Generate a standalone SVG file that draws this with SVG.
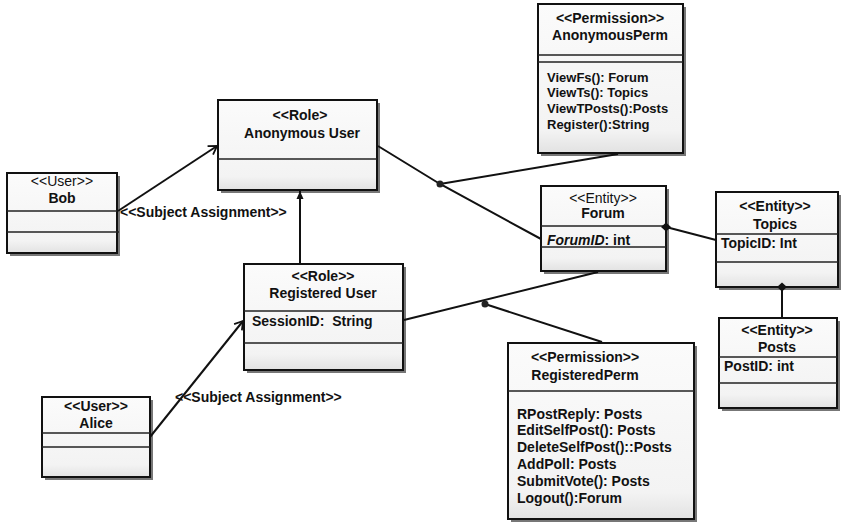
<svg xmlns="http://www.w3.org/2000/svg" width="842" height="529" viewBox="0 0 842 529">
<style>
text{font-family:"Liberation Sans",Arial,sans-serif;font-size:14px;font-weight:bold;fill:#111}
.n{font-weight:normal}
.c{text-anchor:middle}
.s{font-size:13px}
.box{fill:url(#g);stroke:#111;stroke-width:2}
.sh{fill:#777}
.div{stroke:#222;stroke-width:1.3}
.ln{stroke:#111;stroke-width:2;fill:none}
</style>
<defs>
<linearGradient id="g" x1="0" y1="0" x2="0" y2="1">
<stop offset="0" stop-color="#fbfbfb"/>
<stop offset="0.85" stop-color="#f3f3f3"/>
<stop offset="1" stop-color="#e2e2e2"/>
</linearGradient>
<marker id="open" markerWidth="12" markerHeight="12" refX="10" refY="6" orient="auto" markerUnits="userSpaceOnUse">
<path d="M2,1 L10,6 L2,11" fill="none" stroke="#111" stroke-width="1.8"/>
</marker>
<marker id="fill" markerWidth="10" markerHeight="10" refX="9" refY="5" orient="auto" markerUnits="userSpaceOnUse">
<path d="M1,1.5 L9,5 L1,8.5 Z" fill="#111"/>
</marker>
</defs>

<g id="bob">
<rect class="sh" x="10" y="176" width="110" height="80"/>
<rect class="box" x="7" y="173" width="110" height="80"/>
<line class="div" x1="7" y1="211" x2="117" y2="211"/>
<line class="div" x1="7" y1="232" x2="119" y2="232"/>
<text class="c n" x="62" y="186">&lt;&lt;User&gt;&gt;</text>
<text class="c" x="62" y="203">Bob</text>
</g>

<g id="anonymous-user">
<rect class="sh" x="221" y="103" width="159" height="90"/>
<rect class="box" x="218" y="100" width="159" height="90"/>
<line class="div" x1="218" y1="159" x2="377" y2="159"/>
<text class="c" x="300" y="120">&lt;&lt;Role&gt;</text>
<text class="c" x="302" y="138">Anonymous User</text>
</g>

<g id="registered-user">
<rect class="sh" x="247" y="267" width="159" height="106"/>
<rect class="box" x="244" y="264" width="159" height="106"/>
<line class="div" x1="244" y1="311" x2="403" y2="311"/>
<line class="div" x1="244" y1="343" x2="403" y2="343"/>
<text class="c" x="323" y="281">&lt;&lt;Role&gt;&gt;</text>
<text class="c" x="323" y="298">Registered User</text>
<text x="252" y="326">SessionID:&#160; String</text>
</g>

<g id="alice">
<rect class="sh" x="45" y="400" width="108" height="80"/>
<rect class="box" x="42" y="397" width="108" height="80"/>
<line class="div" x1="42" y1="433" x2="150" y2="433"/>
<line class="div" x1="42" y1="447" x2="150" y2="447"/>
<text class="c" x="96" y="411">&lt;&lt;User&gt;&gt;</text>
<text class="c" x="96" y="428">Alice</text>
</g>

<g id="anonymous-perm">
<rect class="sh" x="541" y="7" width="145" height="149"/>
<rect class="box" x="538" y="4" width="145" height="149"/>
<line class="div" x1="538" y1="55" x2="683" y2="55"/>
<line class="div" x1="538" y1="62" x2="683" y2="62"/>
<text class="c" x="610" y="23">&lt;&lt;Permission&gt;&gt;</text>
<text class="c" x="610" y="40">AnonymousPerm</text>
<text class="s" x="547" y="82">ViewFs(): Forum</text>
<text class="s" x="547" y="97">ViewTs(): Topics</text>
<text class="s" x="547" y="113">ViewTPosts():Posts</text>
<text class="s" x="547" y="129">Register():String</text>
</g>

<g id="forum">
<rect class="sh" x="544" y="189" width="125" height="85"/>
<rect class="box" x="541" y="186" width="125" height="85"/>
<line class="div" x1="541" y1="226" x2="666" y2="226"/>
<line class="div" x1="541" y1="247" x2="666" y2="247"/>
<text class="c n" x="603" y="203">&lt;&lt;Entity&gt;&gt;</text>
<text class="c" x="603" y="218">Forum</text>
<text x="547" y="245"><tspan font-style="italic">ForumID</tspan>: int</text>
</g>

<g id="topics">
<rect class="sh" x="719" y="195" width="122" height="95"/>
<rect class="box" x="716" y="192" width="122" height="95"/>
<line class="div" x1="716" y1="234" x2="838" y2="234"/>
<line class="div" x1="716" y1="262" x2="838" y2="262"/>
<text class="c" x="775" y="211">&lt;&lt;Entity&gt;&gt;</text>
<text class="c" x="775" y="229">Topics</text>
<text x="721" y="248">TopicID: Int</text>
</g>

<g id="posts">
<rect class="sh" x="722" y="321" width="118" height="90"/>
<rect class="box" x="719" y="318" width="118" height="90"/>
<line class="div" x1="719" y1="357" x2="837" y2="357"/>
<line class="div" x1="719" y1="383" x2="837" y2="383"/>
<text class="c" x="777" y="335">&lt;&lt;Entity&gt;&gt;</text>
<text class="c" x="777" y="352">Posts</text>
<text x="724" y="371">PostID: int</text>
</g>

<g id="registered-perm">
<rect class="sh" x="511" y="346" width="186" height="176"/>
<rect class="box" x="508" y="343" width="186" height="176"/>
<line class="div" x1="508" y1="391" x2="694" y2="391"/>
<text class="c" x="585" y="362">&lt;&lt;Permission&gt;&gt;</text>
<text class="c" x="585" y="380">RegisteredPerm</text>
<text x="517" y="419">RPostReply: Posts</text>
<text x="517" y="435">EditSelfPost(): Posts</text>
<text x="517" y="452">DeleteSelfPost()::Posts</text>
<text x="517" y="469">AddPoll: Posts</text>
<text x="517" y="486">SubmitVote(): Posts</text>
<text x="517" y="503">Logout():Forum</text>
</g>

<g id="connectors">
<line class="ln" x1="118" y1="211" x2="217" y2="146" marker-end="url(#open)"/>
<line class="ln" x1="150" y1="437" x2="243" y2="321" marker-end="url(#open)"/>
<line class="ln" x1="300" y1="263" x2="300" y2="191" marker-end="url(#fill)"/>
<polyline class="ln" points="378,146 440,184 541,239"/>
<line class="ln" x1="440" y1="184" x2="618" y2="154"/>
<line class="ln" x1="404" y1="320" x2="598" y2="272"/>
<line class="ln" x1="485" y1="304" x2="602" y2="342"/>
<circle cx="440" cy="184" r="3.5" fill="#222"/>
<circle cx="485" cy="304" r="3.5" fill="#222"/>
<line class="ln" x1="666" y1="227" x2="716" y2="240"/>
<path d="M661,227 L666,222.5 L671,227 L666,231.5 Z" fill="#111"/>
<line class="ln" x1="782" y1="288" x2="782" y2="317"/>
<path d="M777,287 L782,282.5 L787,287 L782,291.5 Z" fill="#111"/>
<text x="120" y="217">&lt;&lt;Subject Assignment&gt;&gt;</text>
<text x="175" y="402">&lt;&lt;Subject Assignment&gt;&gt;</text>
</g>
</svg>
